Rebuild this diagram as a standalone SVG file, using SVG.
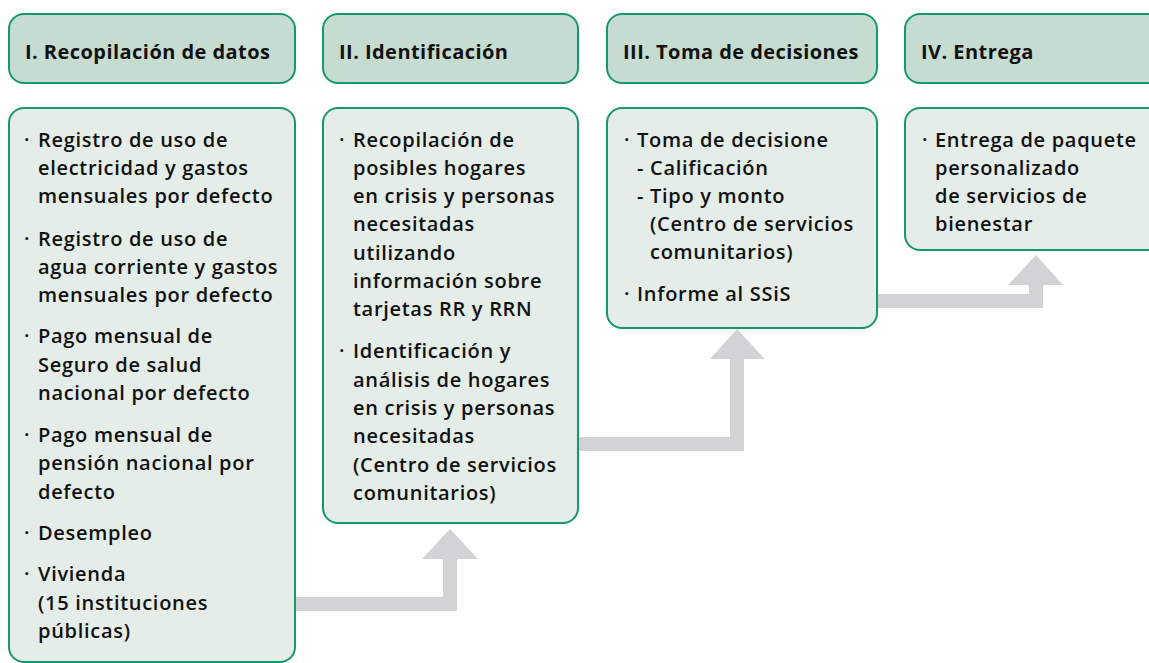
<svg xmlns="http://www.w3.org/2000/svg" width="1149" height="663" viewBox="0 0 1149 663">
<style>
.hd{fill:#c6dcd0;stroke:#16976f;stroke-width:2}
.bd{fill:#e4ede7;stroke:#16976f;stroke-width:2}
.ht{font-family:"Open Sans",sans-serif;font-weight:700;font-size:20px;letter-spacing:0.45px;fill:#111}
.t{font-family:"Open Sans",sans-serif;font-weight:600;font-size:20px;letter-spacing:0.7px;fill:#111}
.arr{fill:#d1d3d4}
</style>
<rect width="1149" height="663" fill="#fff"/>
<g id="connectors">
<path class="arr" d="M290,597 H443 V559 H422 L450,529 L478,559 H457 V611 H290 Z"/>
<path class="arr" d="M573,437 H730 V359 H710 L737,329 L765,359 H744 V451 H573 Z"/>
<path class="arr" d="M872,294 H1029 V285 H1008 L1036,255 L1063,285 H1043 V308 H872 Z"/>
</g>
<g id="h1"><rect class="hd" x="9" y="14" width="286" height="69" rx="15"/><text class="ht" x="25" y="59">I. Recopilación de datos</text></g>
<g id="h2"><rect class="hd" x="323" y="14" width="255" height="69" rx="15"/><text class="ht" x="339" y="59">II. Identificación</text></g>
<g id="h3"><rect class="hd" x="607" y="14" width="270" height="69" rx="15"/><text class="ht" x="623" y="59">III. Toma de decisiones</text></g>
<g id="h4"><rect class="hd" x="905" y="14" width="260" height="69" rx="15"/><text class="ht" x="921" y="59">IV. Entrega</text></g>
<g id="b1"><rect class="bd" x="9" y="108" width="286" height="554" rx="15"/>
<g class="t">
<text x="24" y="147">·</text><text x="38" y="147">Registro de uso de</text>
<text x="38" y="175">electricidad y gastos</text>
<text x="38" y="203">mensuales por defecto</text>
<text x="24" y="246">·</text><text x="38" y="246">Registro de uso de</text>
<text x="38" y="274">agua corriente y gastos</text>
<text x="38" y="302">mensuales por defecto</text>
<text x="24" y="343">·</text><text x="38" y="343">Pago mensual de</text>
<text x="38" y="372">Seguro de salud</text>
<text x="38" y="400">nacional por defecto</text>
<text x="24" y="442">·</text><text x="38" y="442">Pago mensual de</text>
<text x="38" y="470">pensión nacional por</text>
<text x="38" y="499">defecto</text>
<text x="24" y="540">·</text><text x="38" y="540">Desempleo</text>
<text x="24" y="581">·</text><text x="38" y="581">Vivienda</text>
<text x="38" y="610">(15 instituciones</text>
<text x="38" y="638">públicas)</text>
</g></g>
<g id="b2"><rect class="bd" x="323" y="108" width="255" height="415" rx="15"/>
<g class="t">
<text x="339" y="147">·</text><text x="353" y="147">Recopilación de</text>
<text x="353" y="175">posibles hogares</text>
<text x="353" y="203">en crisis y personas</text>
<text x="353" y="231">necesitadas</text>
<text x="353" y="260">utilizando</text>
<text x="353" y="288">información sobre</text>
<text x="353" y="316">tarjetas RR y RRN</text>
<text x="339" y="358">·</text><text x="353" y="358">Identificación y</text>
<text x="353" y="387">análisis de hogares</text>
<text x="353" y="415">en crisis y personas</text>
<text x="353" y="443">necesitadas</text>
<text x="353" y="472">(Centro de servicios</text>
<text x="353" y="500">comunitarios)</text>
</g></g>
<g id="b3"><rect class="bd" x="607" y="108" width="270" height="220" rx="15"/>
<g class="t">
<text x="624" y="147">·</text><text x="637" y="147">Toma de decisione</text>
<text x="637" y="175">- Calificación</text>
<text x="637" y="203">- Tipo y monto</text>
<text x="650" y="231">(Centro de servicios</text>
<text x="650" y="259">comunitarios)</text>
<text x="624" y="301">·</text><text x="637" y="301">Informe al SSiS</text>
</g></g>
<g id="b4"><rect class="bd" x="905" y="108" width="260" height="142" rx="15"/>
<g class="t">
<text x="922" y="147">·</text><text x="935" y="147">Entrega de paquete</text>
<text x="935" y="175">personalizado</text>
<text x="935" y="203">de servicios de</text>
<text x="935" y="231">bienestar</text>
</g></g>
</svg>
